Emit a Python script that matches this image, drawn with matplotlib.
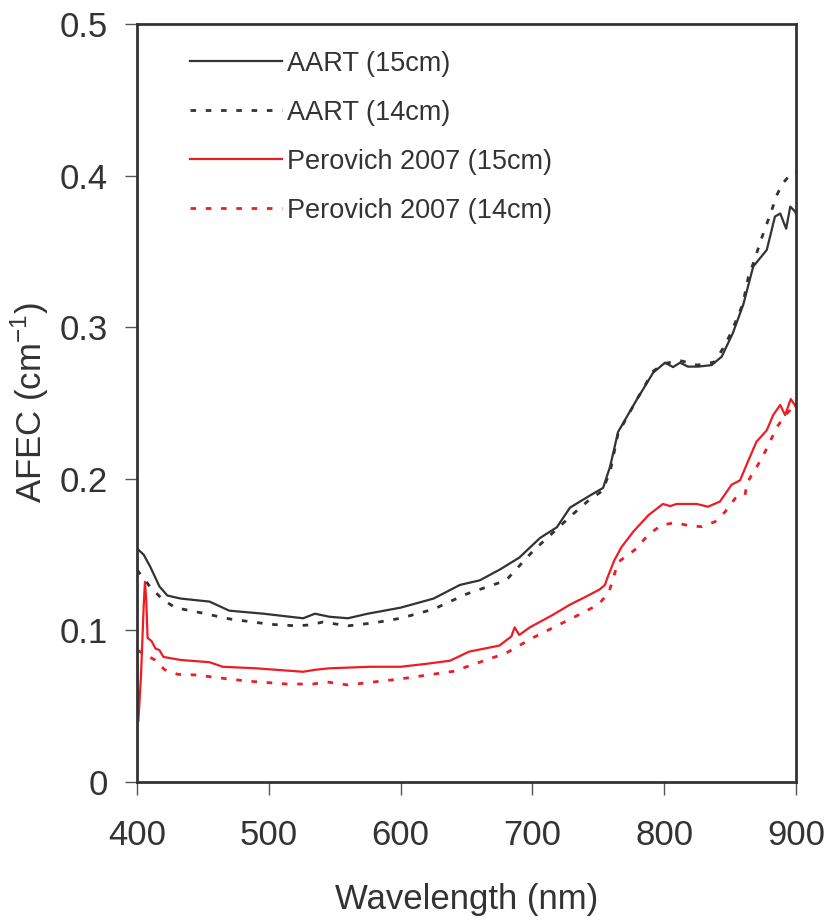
import matplotlib.pyplot as plt

plt.rcParams['font.family'] = ['Liberation Sans', 'DejaVu Sans']

# AART 15cm (solid black)
aart15_x = [400, 405, 410, 417, 423, 433, 455, 470, 496, 526, 535, 546, 560, 575, 600,
            625, 645, 660, 675, 690, 705.8, 718.5, 728.5, 743.7, 753.6, 758.9, 765, 779,
            791.6, 800.6, 806.7, 812, 818, 825.6, 836, 843.6, 852, 860, 867.5, 877.8,
            884, 888, 892.5, 895.6, 898.6, 900]
aart15_y = [0.154, 0.150, 0.142, 0.129, 0.123, 0.121, 0.119, 0.113, 0.111, 0.108, 0.111,
            0.109, 0.108, 0.111, 0.115, 0.121, 0.130, 0.133, 0.140, 0.148, 0.161, 0.168,
            0.181, 0.189, 0.194, 0.208, 0.231, 0.252, 0.270, 0.2766, 0.2737, 0.2766,
            0.274, 0.274, 0.275, 0.2806, 0.296, 0.315, 0.340, 0.351, 0.373, 0.375,
            0.365, 0.3795, 0.377, 0.375]

# AART 14cm (dotted black)
aart14_x = [400, 403, 410.6, 420, 429, 449, 470.6, 501, 521, 531, 541, 560, 580, 600,
            625, 650, 680, 700, 715, 729.8, 743, 753, 759, 765, 779, 791.6, 800, 812,
            825, 838, 846, 851, 859.5, 863.8, 867.5, 874, 881.5, 885.3, 890, 896.7, 900]
aart14_y = [0.140, 0.1365, 0.128, 0.120, 0.115, 0.1115, 0.1075, 0.104, 0.103, 0.1036,
            0.1055, 0.103, 0.105, 0.108, 0.114, 0.124, 0.133, 0.152, 0.164, 0.176,
            0.186, 0.192, 0.205, 0.230, 0.252, 0.271, 0.276, 0.278, 0.275, 0.277,
            0.288, 0.297, 0.315, 0.333, 0.342, 0.359, 0.377, 0.387, 0.395, 0.4017, 0.402]

# Perovich 2007 15cm (solid red)
per15_x = [400, 401, 403, 405, 406, 407, 408, 411, 414, 417, 420, 433, 455, 465, 490,
           526, 535, 546, 577, 600, 620, 637.5, 652, 675, 684, 686.5, 690, 698, 715,
           728.5, 740, 751, 755, 757, 762, 767.6, 776.4, 788, 799, 804.5, 809.5, 817,
           824.6, 833.2, 842.3, 851, 857.5, 863.8, 870, 877.8, 882.6, 888, 891.7, 896,
           899, 900]
per15_y = [0.090, 0.040, 0.070, 0.115, 0.132, 0.120, 0.095, 0.093, 0.088, 0.087, 0.0825,
           0.0805, 0.079, 0.076, 0.075, 0.0727, 0.074, 0.075, 0.076, 0.076, 0.078,
           0.080, 0.086, 0.090, 0.096, 0.102, 0.097, 0.102, 0.110, 0.117, 0.122,
           0.127, 0.130, 0.135, 0.146, 0.155, 0.165, 0.176, 0.1834, 0.182, 0.1834,
           0.1834, 0.1834, 0.1816, 0.185, 0.196, 0.199, 0.212, 0.2245, 0.232, 0.242,
           0.2487, 0.242, 0.2526, 0.2487, 0.247]

# Perovich 2007 14cm (dotted red)
per14_x = [400, 413.6, 421, 431, 445, 463, 483, 514, 533.5, 544, 560, 580, 600, 640,
           680, 700, 730, 750, 758, 765, 779, 787.7, 798, 808, 819.5, 828.4, 838.5, 846,
           853.7, 861.3, 862.6, 873, 879, 885.3, 893, 898, 900]
per14_y = [0.087, 0.0805, 0.074, 0.071, 0.0706, 0.0686, 0.0666, 0.0646, 0.0646, 0.066,
           0.064, 0.066, 0.068, 0.073, 0.085, 0.095, 0.108, 0.117, 0.125, 0.145, 0.154,
           0.163, 0.1695, 0.171, 0.169, 0.1684, 0.1717, 0.178, 0.187, 0.189, 0.197,
           0.212, 0.222, 0.234, 0.243, 0.2475, 0.247]

labels = ['AART (15cm)', 'AART (14cm)', 'Perovich 2007 (15cm)', 'Perovich 2007 (14cm)']

dark = '#333333'
red = '#ee1c24'
dots = (0, (2, 3.5))

fig = plt.figure(figsize=(8.28, 9.24), dpi=100)
ax = fig.add_axes([0.1655, 0.1537, 0.7959, 0.8203])

ax.plot(aart15_x, aart15_y, color=dark, lw=1.6, label=labels[0])
ax.plot(aart14_x, aart14_y, color=dark, lw=2.0, ls=dots, label=labels[1])
ax.plot(per15_x, per15_y, color=red, lw=1.6, label=labels[2])
ax.plot(per14_x, per14_y, color=red, lw=2.0, ls=dots, label=labels[3])

ax.set_xlim(400, 900)
ax.set_ylim(0, 0.5)
ax.set_xticks([400, 500, 600, 700, 800, 900])
ax.set_yticks([0, 0.1, 0.2, 0.3, 0.4, 0.5])
ax.set_yticklabels(['0', '0.1', '0.2', '0.3', '0.4', '0.5'])

for s in ax.spines.values():
    s.set_color(dark)
    s.set_linewidth(2)

ax.tick_params(direction='out', length=9, width=1, color='#555555',
               labelsize=25, labelcolor=dark)
ax.tick_params(axis='x', pad=18)
ax.tick_params(axis='y', pad=12)

ax.set_xlabel('Wavelength (nm)', fontsize=25, color=dark, labelpad=22)
ax.set_ylabel('AFEC (cm$^{\\mathregular{-1}}$)', fontsize=25, color=dark, labelpad=6)

leg = ax.legend(loc='upper left', bbox_to_anchor=(0.080, 0.965), frameon=False,
                fontsize=19.5, handlelength=3.4, handletextpad=0.2, labelspacing=0.85,
                borderpad=0, borderaxespad=0, labelcolor=dark)

fig.savefig('out.png', dpi=100)
